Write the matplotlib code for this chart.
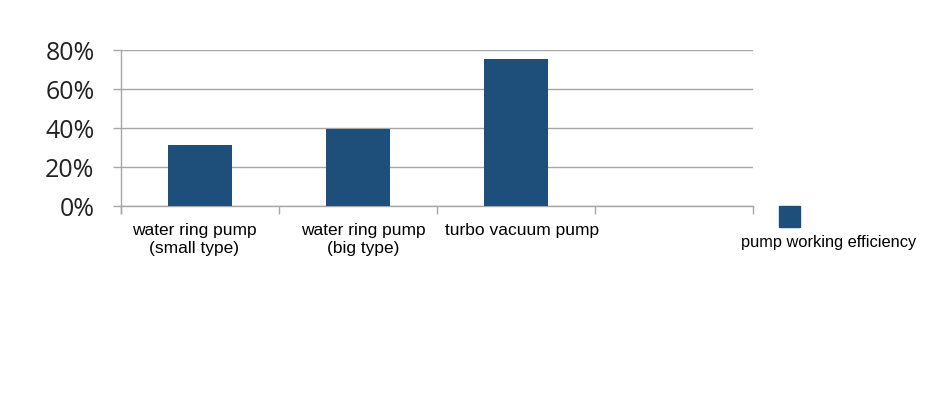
import matplotlib.pyplot as plt
from matplotlib.patches import Rectangle
from matplotlib.transforms import ScaledTranslation

# data
categories = ["water ring pump\n(small type)", "water ring pump\n(big type)", "turbo vacuum pump", ""]
efficiency = [31.3, 39.6, 75.2, None]
series_name = "pump working efficiency"
y_ticks = [0, 20, 40, 60, 80]
y_labels = ["0%", "20%", "40%", "60%", "80%"]

bar_color = "#1d4f7a"
grid_color = "#a6a6a6"

fig = plt.figure(figsize=(9.3, 4.11), dpi=100)
ax = fig.add_axes([121 / 930, 205 / 411, 632 / 930, 156 / 411])

xs = [i for i, v in enumerate(efficiency) if v is not None]
vals = [v for v in efficiency if v is not None]
ax.bar(xs, vals, width=0.41, color=bar_color, zorder=3)

ax.set_xlim(-0.5, len(categories) - 0.5)
ax.set_ylim(0, 80)
ax.set_yticks(y_ticks)
ax.set_yticklabels(y_labels, fontfamily="Open Sans", fontsize=18, color="#222222")
ax.tick_params(axis="y", length=6, width=1, color=grid_color, pad=13)
ax.yaxis.grid(True, color=grid_color, linewidth=1, zorder=0)

ax.set_xticks(range(len(categories)))
ax.set_xticklabels(categories, fontfamily="Liberation Sans", fontsize=12.5, color="black",
                   linespacing=1.3)
ax.tick_params(axis="x", which="major", length=0, pad=12)
ax.set_xticks([i - 0.5 for i in range(len(categories) + 1)], minor=True)
ax.tick_params(axis="x", which="minor", length=6, width=1, color=grid_color)

# small horizontal nudges of the category labels, as in the reference
for lab, dx in zip(ax.get_xticklabels(), [-6, 5, 6, 0]):
    lab.set_transform(lab.get_transform() + ScaledTranslation(dx / 100, 0, fig.dpi_scale_trans))

for s in ["top", "right"]:
    ax.spines[s].set_visible(False)
for s in ["left", "bottom"]:
    ax.spines[s].set_color(grid_color)
    ax.spines[s].set_linewidth(1)
ax.spines["left"].set_bounds(-3.6, 80)

# legend: marker above the label
fig.patches.append(Rectangle((779 / 930, 184 / 411), 21 / 930, 21 / 411,
                             transform=fig.transFigure, color=bar_color))
fig.text(829 / 930, 1 - 242 / 411, series_name, ha="center", va="center",
         fontfamily="Liberation Sans", fontsize=11.8, color="black")

fig.savefig("out.png", dpi=100)
